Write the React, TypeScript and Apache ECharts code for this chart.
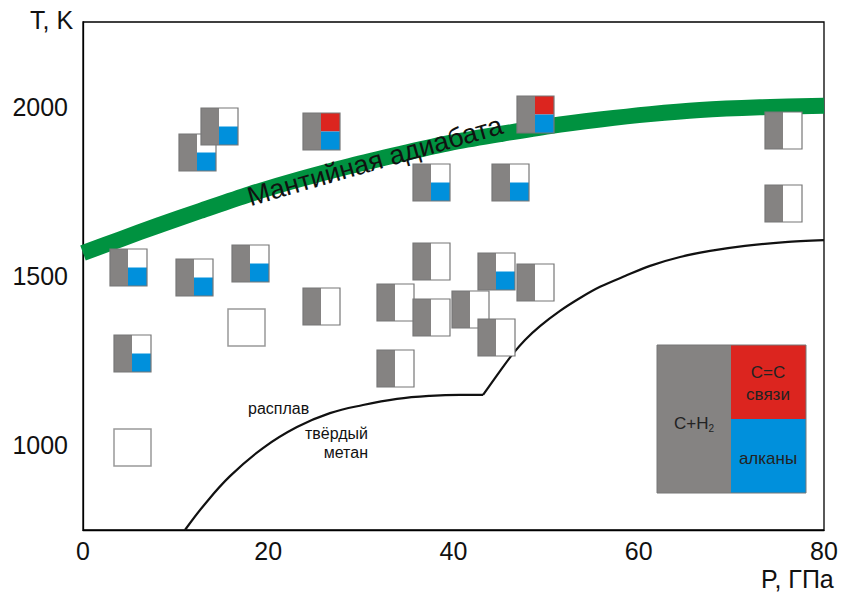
import React, { useEffect, useRef } from "react";
import * as echarts from "echarts";

// Marker types: A = C+H2 | alkanes, B = C+H2 | C=C + alkanes, C = C+H2 only, E = empty
const markerP = [12.4, 14.7, 25.8, 48.8, 37.6, 46.2, 75.6, 75.6, 4.9, 12.0, 18.1, 17.6, 25.8, 5.3, 5.3, 37.6, 33.7, 37.6, 41.8, 44.6, 48.9, 44.6, 33.7];
const markerT = [1866, 1940, 1928, 1976, 1775, 1775, 1931, 1713, 1524, 1497, 1538, 1349, 1411, 1270, 995, 1544, 1423, 1376, 1400, 1512, 1482, 1317, 1228];
const markerType = ["A", "A", "B", "B", "A", "A", "C", "C", "A", "A", "A", "E", "C", "A", "E", "C", "C", "C", "C", "A", "C", "C", "C"];

const adiabatP = [0, 3.99, 8.31, 12.63, 18.03, 23.43, 28.83, 34.22, 39.62, 45.02, 50.42, 55.82, 61.22, 66.61, 73.09, 80];
const adiabatT = [1568, 1608, 1651, 1692, 1742, 1786, 1825, 1860, 1893, 1919, 1943, 1962, 1978, 1990, 1998, 2003];

const melt1P = [11.01, 13.17, 15.87, 19.43, 23.1, 26.66, 30.23, 33.9, 37.46, 40.7, 43.19];
const melt1T = [750, 827, 909, 992, 1054, 1095, 1119, 1137, 1146, 1149, 1149];
const melt2P = [43.19, 43.94, 45.02, 46.32, 47.72, 49.34, 51.5, 53.66, 55.82, 58.52, 61.22, 64.46, 67.7, 71.47, 75.8, 80];
const melt2T = [1149, 1178, 1219, 1267, 1311, 1352, 1397, 1435, 1468, 1500, 1530, 1556, 1574, 1589, 1600, 1606];

const xTicks = [0, 20, 40, 60, 80];
const yTicks = [1000, 1500, 2000];

const GRAY = "#858382";
const RED = "#dc251f";
const BLUE = "#0090dc";
const GREEN = "#009240";
const FONT = "Liberation Sans, Arial, sans-serif";

export default function App() {
  const ref = useRef<HTMLDivElement>(null);
  useEffect(() => {
    document.body.style.margin = "0";
    const chart = echarts.init(ref.current!, null, { renderer: "svg" });
    const typeCode: Record<string, number> = { A: 0, B: 1, C: 2, E: 3 };
    const markerData = markerP.map((p, i) => [p, markerT[i], typeCode[markerType[i]]]);
    chart.setOption({
      animation: false,
      backgroundColor: "#fff",
      grid: { left: 83, right: 17, top: 22, bottom: 64, show: true, borderColor: "#000", borderWidth: 1.3, backgroundColor: "transparent" },
      xAxis: {
        type: "value", min: 0, max: 80, interval: 20,
        axisLine: { show: true, lineStyle: { color: "#000", width: 1.3 } },
        axisTick: { show: false }, splitLine: { show: false },
        axisLabel: { color: "#111", fontSize: 25, fontFamily: FONT, margin: 8,
          formatter: (v: number) => (xTicks.includes(v) ? String(v) : "") },
      },
      yAxis: {
        type: "value", min: 750, max: 2250, interval: 250,
        axisLine: { show: true, lineStyle: { color: "#000", width: 1.3 } },
        axisTick: { show: false }, splitLine: { show: false },
        axisLabel: { color: "#111", fontSize: 25, fontFamily: FONT, margin: 15,
          formatter: (v: number) => (yTicks.includes(v) ? String(v) : "") },
      },
      series: [
        {
          type: "line", data: adiabatP.map((p, i) => [p, adiabatT[i]]), smooth: 0.3, showSymbol: false,
          lineStyle: { color: GREEN, width: 16, cap: "butt" }, z: 1, silent: true,
        },
        {
          type: "line", data: melt1P.map((p, i) => [p, melt1T[i]]), smooth: 0.4, showSymbol: false,
          lineStyle: { color: "#111", width: 2.2 }, z: 2,
        },
        {
          type: "line", data: melt2P.map((p, i) => [p, melt2T[i]]), smooth: 0.3, showSymbol: false,
          lineStyle: { color: "#111", width: 2.2 }, z: 2,
        },
        {
          type: "custom", z: 5, clip: false,
          data: markerData,
          renderItem: (params: any, api: any) => {
            const c = api.coord([api.value(0), api.value(1)]);
            const t = api.value(2);
            const s = 37;
            const x0 = Math.round(c[0] - s / 2);
            const y0 = Math.round(c[1] - s / 2);
            const half = 18;
            const children: any[] = [];
            if (t === 3) {
              children.push({ type: "rect", shape: { x: x0, y: y0, width: s, height: s }, style: { fill: "#fff", stroke: "#999", lineWidth: 1.5 } });
            } else {
              children.push({ type: "rect", shape: { x: x0, y: y0, width: s, height: s }, style: { fill: "#fff" } });
              children.push({ type: "rect", shape: { x: x0, y: y0, width: half, height: s }, style: { fill: GRAY } });
              if (t === 0) {
                children.push({ type: "rect", shape: { x: x0 + half, y: y0 + s / 2, width: s - half, height: s / 2 }, style: { fill: BLUE } });
              } else if (t === 1) {
                children.push({ type: "rect", shape: { x: x0 + half, y: y0, width: s - half, height: s / 2 }, style: { fill: RED } });
                children.push({ type: "rect", shape: { x: x0 + half, y: y0 + s / 2, width: s - half, height: s / 2 }, style: { fill: BLUE } });
              }
              children.push({ type: "rect", shape: { x: x0, y: y0, width: s, height: s }, style: { fill: "none", stroke: "#777", lineWidth: 1.2 } });
            }
            return { type: "group", children };
          },
        },
      ],
      graphic: [
        { type: "text", left: 30, top: 7, style: { text: "T, K", fontSize: 25, fontFamily: FONT, fill: "#111" } },
        { type: "text", left: 761, top: 566, style: { text: "P, ГПа", fontSize: 25, fontFamily: FONT, fill: "#111" } },
        { type: "text", x: 375, y: 161, rotation: (16 * Math.PI) / 180, z: 10,
          style: { text: "Мантийная адиабата", fontSize: 27, fontFamily: FONT, fill: "#111", align: "center", verticalAlign: "middle" } },
        { type: "text", left: 248, top: 400, style: { text: "расплав", fontSize: 16, fontFamily: FONT, fill: "#111" } },
        { type: "text", x: 368, y: 425, style: { text: "твёрдый", fontSize: 16, fontFamily: FONT, fill: "#111", align: "right" } },
        { type: "text", x: 368, y: 444, style: { text: "метан", fontSize: 16, fontFamily: FONT, fill: "#111", align: "right" } },
        // legend
        { type: "rect", shape: { x: 657, y: 345, width: 74, height: 148 }, style: { fill: GRAY }, z: 20 },
        { type: "rect", shape: { x: 731, y: 345, width: 75, height: 74 }, style: { fill: RED }, z: 20 },
        { type: "rect", shape: { x: 731, y: 419, width: 75, height: 74 }, style: { fill: BLUE }, z: 20 },
        { type: "rect", shape: { x: 657, y: 345, width: 149, height: 148 }, style: { fill: "none", stroke: "#777", lineWidth: 1 }, z: 21 },
        { type: "text", x: 694, y: 423, z: 22, style: { text: "C+H{s|2}", fontSize: 17, fontFamily: FONT, fill: "#222", align: "center", verticalAlign: "middle",
          rich: { s: { fontSize: 10, fontFamily: FONT, fill: "#222", verticalAlign: "bottom", padding: [10, 0, 0, 0] } } } },
        { type: "text", x: 768, y: 372, z: 22, style: { text: "C=C", fontSize: 17, fontFamily: FONT, fill: "#222", align: "center", verticalAlign: "middle" } },
        { type: "text", x: 768, y: 394, z: 22, style: { text: "связи", fontSize: 17, fontFamily: FONT, fill: "#222", align: "center", verticalAlign: "middle" } },
        { type: "text", x: 768, y: 458, z: 22, style: { text: "алканы", fontSize: 17, fontFamily: FONT, fill: "#222", align: "center", verticalAlign: "middle" } },
      ],
    });
    return () => chart.dispose();
  }, []);
  return <div ref={ref} style={{ width: 841, height: 594 }} />;
}
